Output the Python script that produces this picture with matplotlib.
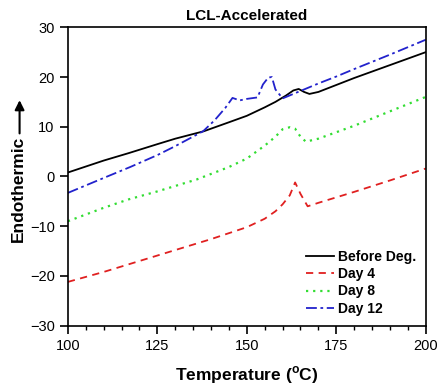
import numpy as np
import matplotlib.pyplot as plt
from matplotlib.ticker import MultipleLocator

plt.rcParams['font.family'] = ['Liberation Sans', 'DejaVu Sans']

# temperature (C) and heat flow readings for each sample
t_before = [100, 110, 117, 125, 130, 138, 145, 150, 155, 158, 161, 163, 164.5, 166, 167.5, 170, 175, 180, 190, 200]
y_before = [0.8, 3.2, 4.7, 6.5, 7.6, 9.1, 10.9, 12.2, 13.9, 15.0, 16.3, 17.3, 17.6, 17.0, 16.6, 17.0, 18.4, 19.8, 22.4, 25.0]

t_day4 = [100, 110, 120, 130, 140, 150, 155, 158, 160, 162, 163.5, 165, 167, 170, 175, 180, 190, 200]
y_day4 = [-21.2, -19.2, -17.0, -14.8, -12.6, -10.2, -8.5, -7.0, -5.6, -3.8, -1.2, -3.5, -6.0, -5.3, -4.2, -3.1, -0.8, 1.6]

t_day8 = [100, 110, 117, 125, 136, 145, 150, 155, 158, 160, 162, 163.5, 165, 166.5, 170, 175, 180, 190, 200]
y_day8 = [-9.0, -6.3, -4.6, -3.0, -0.6, 1.9, 3.6, 6.2, 8.0, 9.5, 9.9, 9.6, 8.0, 7.0, 7.6, 8.9, 10.2, 13.1, 16.0]

t_day12 = [100, 110, 117.4, 125, 130, 137.8, 141, 144, 146, 148, 150, 153, 154.5, 156, 157, 158, 160, 165, 170, 175, 180, 190, 200]
y_day12 = [-3.3, -0.3, 1.9, 4.3, 6.1, 9.1, 11.3, 13.8, 15.8, 15.3, 15.6, 15.9, 18.5, 19.9, 20.0, 17.5, 15.7, 17.2, 18.7, 20.1, 21.6, 24.5, 27.5]

fig, ax = plt.subplots(figsize=(4.38, 3.90), dpi=100)
fig.subplots_adjust(left=0.155, right=0.972, top=0.93, bottom=0.165)

ax.plot(t_before, y_before, color='black', lw=1.3, ls='-', label='Before Deg.')
ax.plot(t_day4, y_day4, color='#e02020', lw=1.3, ls=(0, (4, 3)), label='Day 4')
ax.plot(t_day8, y_day8, color='#33dd33', lw=1.6, ls=(0, (1, 2.2)), label='Day 8')
ax.plot(t_day12, y_day12, color='#2222cc', lw=1.3, ls=(0, (6, 2, 1.5, 2)), label='Day 12')

ax.set_xlim(100, 200)
ax.set_ylim(-30, 30)
ax.xaxis.set_major_locator(MultipleLocator(25))
ax.xaxis.set_minor_locator(MultipleLocator(5))
ax.yaxis.set_major_locator(MultipleLocator(10))
ax.tick_params(which='major', length=6, width=1.2, labelsize=10.5)
ax.tick_params(which='minor', length=3, width=1.0)
for s in ax.spines.values():
    s.set_linewidth(1.2)

ax.set_title('LCL-Accelerated', fontsize=11, fontweight='bold', pad=5)
ax.set_xlabel('Temperature ($^\\mathregular{o}$C)', fontsize=12.5, fontweight='bold', labelpad=8)
ax.set_ylabel('Endothermic', fontsize=12.5, fontweight='bold')
ax.yaxis.set_label_coords(-0.118, 0.46)
ax.annotate('', xy=(-0.135, 0.765), xytext=(-0.135, 0.635), xycoords='axes fraction',
            arrowprops=dict(arrowstyle='-|>', color='black', lw=1.5, mutation_scale=14))

ax.legend(loc='lower right', frameon=False, handlelength=2.0, handletextpad=0.3,
          borderaxespad=0.3, labelspacing=0.25, prop={'weight': 'bold', 'size': 10})

fig.savefig('out.png', dpi=100)
